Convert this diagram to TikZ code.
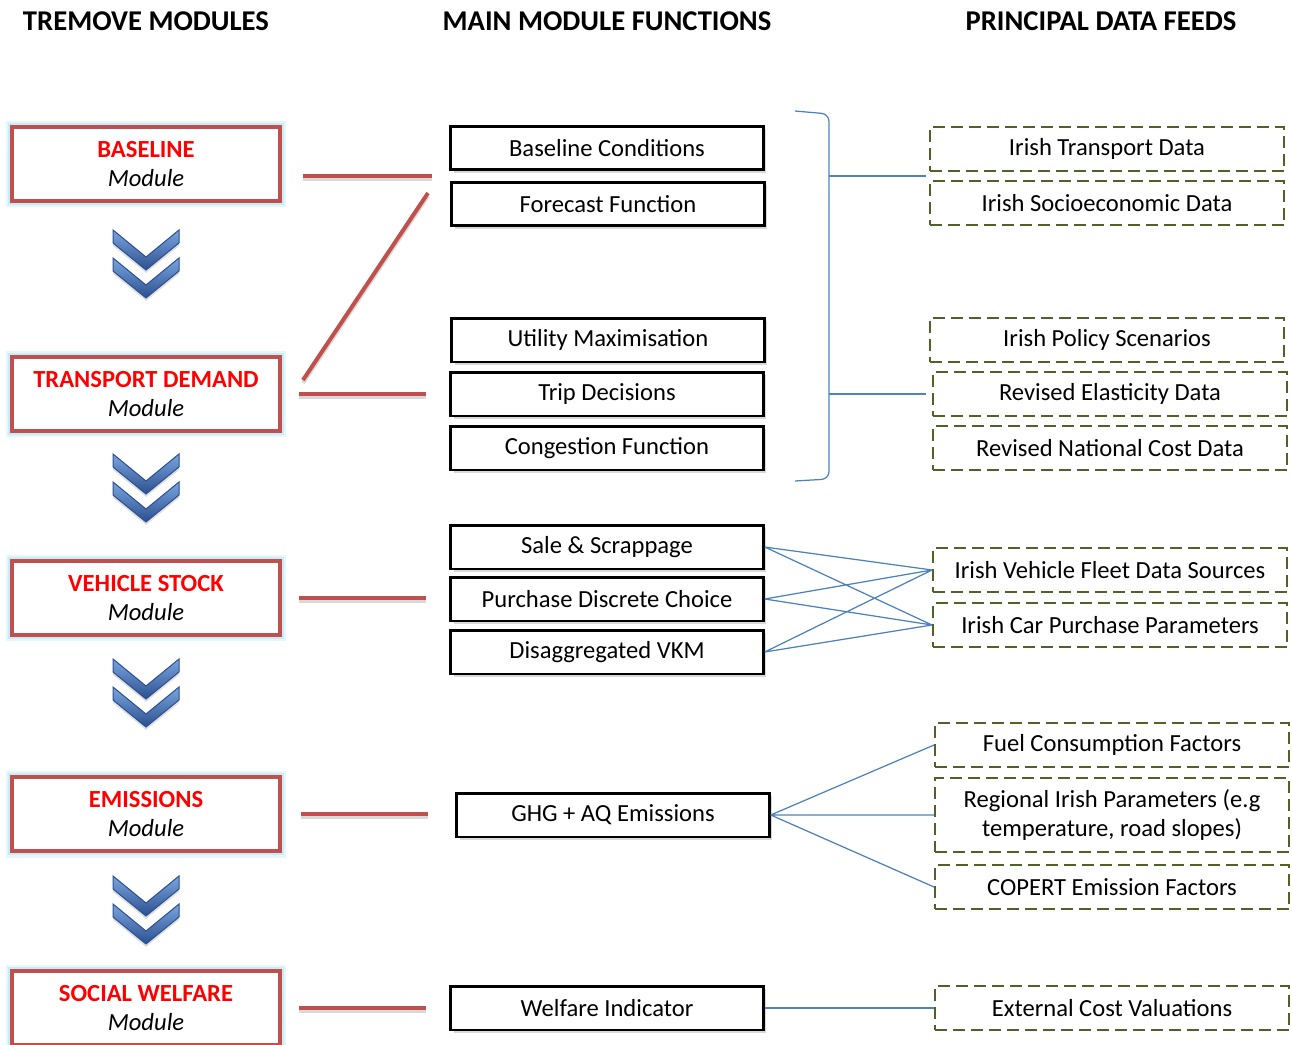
\documentclass[tikz,border=0pt]{standalone}
\usepackage{fontspec}
\setmainfont{Carlito}
\usetikzlibrary{shadows}

\definecolor{modred}{HTML}{C0504D}
\definecolor{feedgreen}{HTML}{4F6228}
\definecolor{linkblue}{HTML}{4F81BD}
\definecolor{glowcyan}{HTML}{BDEBF7}
\definecolor{chevtop}{HTML}{7AA5E0}
\definecolor{chevbot}{HTML}{2B4F8F}

\begin{document}
\begin{tikzpicture}[x=0.02cm,y=-0.02cm,
  heading/.style={font=\fontsize{16.3}{19}\selectfont\bfseries},
  module node/.style={rectangle,draw=modred,line width=0.08cm,fill=white,minimum width=5.36cm,minimum height=1.48cm,inner sep=0pt,align=center,font=\fontsize{14}{16.5}\selectfont,preaction={draw=glowcyan!40,line width=0.26cm},preaction={draw=glowcyan!85,line width=0.17cm}},
  func node/.style={rectangle,draw=black,line width=0.05cm,fill=white,minimum width=6.26cm,minimum height=0.87cm,inner sep=0pt,font=\fontsize{14}{16.5}\selectfont,drop shadow={opacity=0.3,shadow xshift=0.06cm,shadow yshift=-0.06cm}},
  feed node/.style={rectangle,draw=feedgreen,line width=0.03cm,dash pattern=on 0.24cm off 0.12cm,minimum width=7.09cm,minimum height=0.88cm,inner sep=0pt,align=center,font=\fontsize{14}{16.5}\selectfont},
  bar/.style={draw=modred,line width=0.08cm,preaction={draw=black!15,line width=0.08cm,transform canvas={yshift=-0.06cm}}},
  link/.style={draw=linkblue,line width=0.025cm},
  chevron/.style={top color=chevtop,bottom color=chevbot,draw=chevbot,line width=0.02cm,drop shadow={opacity=0.25,shadow xshift=0cm,shadow yshift=-0.06cm}}]

  \useasboundingbox (0,0) rectangle (1292,1045);

  % column headings
  \node[heading] (h1) at (146,21) {TREMOVE MODULES};
  \node[heading] (h2) at (607,21) {MAIN MODULE FUNCTIONS};
  \node[heading] (h3) at (1101,21) {PRINCIPAL DATA FEEDS};

  % tremove modules
  \node[module node] (base) at (146,164) {\textcolor{red}{\bfseries BASELINE}\\\textit{Module}};
  \node[module node] (demand) at (146,394) {\textcolor{red}{\bfseries TRANSPORT DEMAND}\\\textit{Module}};
  \node[module node] (stock) at (146,598) {\textcolor{red}{\bfseries VEHICLE STOCK}\\\textit{Module}};
  \node[module node] (emis) at (146,814) {\textcolor{red}{\bfseries EMISSIONS}\\\textit{Module}};
  \node[module node] (welfare) at (146,1008) {\textcolor{red}{\bfseries SOCIAL WELFARE}\\\textit{Module}};

  \foreach \y in {230,454,659,876}
    \foreach \d in {0,28}
      \shade[chevron] (113,\y+\d) -- (146,\y+\d+27) -- (179,\y+\d) -- (179,\y+\d+13) -- (146,\y+\d+40) -- (113,\y+\d+13) -- cycle;

  % module functions
  \node[func node] (cond) at (607,148) {Baseline Conditions};
  \node[func node] (fcast) at (608,204) {Forecast Function};
  \node[func node] (util) at (608,340) {Utility Maximisation};
  \node[func node] (trip) at (607,394) {Trip Decisions};
  \node[func node] (cong) at (607,448) {Congestion Function};
  \node[func node] (sale) at (607,547) {Sale \& Scrappage};
  \node[func node] (purch) at (607,599) {Purchase Discrete Choice};
  \node[func node] (vkm) at (607,652) {Disaggregated VKM};
  \node[func node] (ghg) at (613,815) {GHG + AQ Emissions};
  \node[func node] (windic) at (607,1008) {Welfare Indicator};

  % data feeds
  \node[feed node] (transp) at (1107,149) {Irish Transport Data};
  \node[feed node] (socio) at (1107,203) {Irish Socioeconomic Data};
  \node[feed node] (policy) at (1107,340) {Irish Policy Scenarios};
  \node[feed node] (elast) at (1110,394) {Revised Elasticity Data};
  \node[feed node] (ncost) at (1110,448) {Revised National Cost Data};
  \node[feed node] (fleet) at (1110,570) {Irish Vehicle Fleet Data Sources};
  \node[feed node] (carpar) at (1110,625) {Irish Car Purchase Parameters};
  \node[feed node] (fuel) at (1112,745) {Fuel Consumption Factors};
  \node[feed node,minimum height=1.48cm] (region) at (1112,815) {Regional Irish Parameters (e.g\\temperature, road slopes)};
  \node[feed node] (copert) at (1112,887) {COPERT Emission Factors};
  \node[feed node] (extcost) at (1112,1008) {External Cost Valuations};

  % red module links
  \coordinate (bl1) at (303,176);
  \coordinate (bl2) at (432,176);
  \coordinate (dg1) at (303,380);
  \coordinate (dg2) at (428,193);
  \draw[bar] (bl1) -- (bl2);
  \draw[bar] (dg1) -- (dg2);
  \draw[bar,shorten <=0.34cm,shorten >=0.46cm] (demand.east) -- (trip.west);
  \draw[bar,shorten <=0.34cm,shorten >=0.46cm] (stock.east) -- (stock.east -| purch.west);
  \draw[bar,shorten <=0.38cm,shorten >=0.54cm] (emis.east) -- (emis.east -| ghg.west);
  \draw[bar,shorten <=0.34cm,shorten >=0.46cm] (welfare.east) -- (windic.west);

  % brace to data feeds
  \coordinate (brA) at (829,176);
  \coordinate (brB) at (829,394);
  \draw[link,rounded corners=0.15cm] (795,111) -- (829,114) -- (829,479) -- (795,481);
  \draw[link] (brA) -- (926,176);
  \draw[link,shorten >=0.12cm] (brB) -- (elast.west);

  % blue data links
  \draw[link] (sale.east) -- (fleet.west) (sale.east) -- (carpar.west)
              (purch.east) -- (fleet.west) (purch.east) -- (carpar.west)
              (vkm.east) -- (fleet.west) (vkm.east) -- (carpar.west);
  \draw[link] (ghg.east) -- (fuel.west) (ghg.east) -- (region.west) (ghg.east) -- (copert.west);
  \draw[link] (windic.east) -- (extcost.west);
\end{tikzpicture}
\end{document}
